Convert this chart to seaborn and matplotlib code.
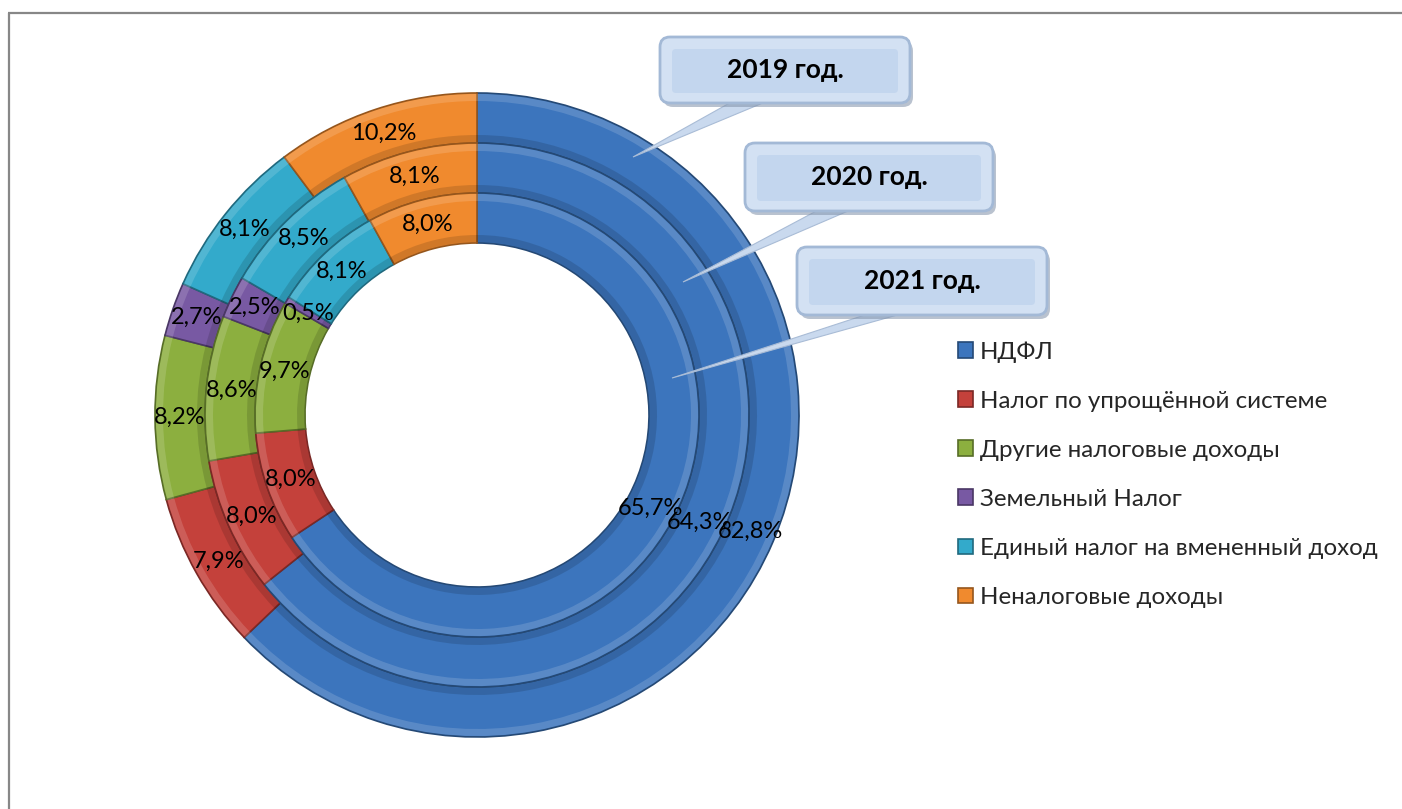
import numpy as np
import matplotlib.pyplot as plt
import seaborn as sns
from matplotlib.patches import FancyBboxPatch, Polygon
from matplotlib.colors import to_rgb

# --------------------------------------------------------------------------- #
#                               DATA                                          #
# --------------------------------------------------------------------------- #
CATEGORIES = [
    "НДФЛ",
    "Налог по упрощённой системе",
    "Другие налоговые доходы",
    "Земельный Налог",
    "Единый налог на вмененный доход",
    "Неналоговые доходы",
]
YEARS = ["2019 год.", "2020 год.", "2021 год."]
SHARE_2019 = [62.8, 7.9, 8.2, 2.7, 8.1, 10.2]
SHARE_2020 = [64.3, 8.0, 8.6, 2.5, 8.5, 8.1]
SHARE_2021 = [65.7, 8.0, 9.7, 0.5, 8.1, 8.0]

COLORS = ["#3C75BD", "#C4413B", "#8CAF3F", "#7859A3", "#33AACB", "#F08A2E"]

# --------------------------------------------------------------------------- #
#                               STYLE                                         #
# --------------------------------------------------------------------------- #
sns.set_theme(style="white")
plt.rcParams["font.family"] = ["Lato", "DejaVu Sans"]
palette = sns.color_palette(COLORS)
edge_cols = [tuple(c * 0.62 for c in to_rgb(col)) for col in palette]

W, H = 1402, 809
fig = plt.figure(figsize=(W / 100, H / 100), dpi=100)
ax = fig.add_axes([0, 0, 1, 1])

center = (477, H - 415)
radii = [322, 272, 222]
ring_w = 50
bevel = 7


def fmt(v):
    return f"{v:.1f}%".replace(".", ",")


for shares, r in zip([SHARE_2019, SHARE_2020, SHARE_2021], radii):
    wedges, _ = ax.pie(
        shares,
        colors=palette,
        radius=r,
        center=center,
        startangle=90,
        counterclock=False,
        wedgeprops=dict(width=ring_w, linewidth=1.2),
    )
    for w, ec in zip(wedges, edge_cols):
        w.set_edgecolor(ec)
    # лёгкий "скос": светлая полоса снаружи, тёмная внутри
    ax.pie(shares, colors=[(1, 1, 1, 0.15)] * len(shares), radius=r - 1,
           center=center, startangle=90, counterclock=False,
           wedgeprops=dict(width=bevel, linewidth=0))
    ax.pie(shares, colors=[(0, 0, 0, 0.13)] * len(shares), radius=r - ring_w + bevel + 1,
           center=center, startangle=90, counterclock=False,
           wedgeprops=dict(width=bevel, linewidth=0))
    # подписи по центру кольца
    mid_r = r - ring_w / 2
    for w, v in zip(wedges, shares):
        ang = np.deg2rad((w.theta1 + w.theta2) / 2)
        ax.text(center[0] + mid_r * np.cos(ang), center[1] + mid_r * np.sin(ang),
                fmt(v), ha="center", va="center", fontsize=17, color="black", zorder=5)

ax.set_xlim(0, W)
ax.set_ylim(0, H)
ax.set_aspect("equal")
ax.axis("off")

# --------------------------------------------------------------------------- #
#                          ВЫНОСКИ (callouts)                                 #
# --------------------------------------------------------------------------- #
boxes = [(660, 37, 250, 66), (745, 143, 248, 68), (797, 247, 250, 68)]
pointers = [
    [(633, 157), (735, 100), (770, 100)],
    [(683, 282), (822, 208), (855, 208)],
    [(672, 378), (874, 312), (908, 312)],
]
for label, (bx, by, bw, bh), pts in zip(YEARS, boxes, pointers):
    poly = Polygon([(x, H - y) for x, y in pts], closed=True,
                   facecolor="#C9D9EE", edgecolor="#A9BCD6", lw=0.8, zorder=6)
    ax.add_patch(poly)
    shadow = FancyBboxPatch((bx + 3, H - by - bh - 4), bw, bh,
                            boxstyle="round,pad=0,rounding_size=10",
                            facecolor="#8191A8", edgecolor="none", alpha=0.55, zorder=6)
    ax.add_patch(shadow)
    box = FancyBboxPatch((bx, H - by - bh), bw, bh,
                         boxstyle="round,pad=0,rounding_size=10",
                         facecolor="#D3E1F3", edgecolor="#A3B9D6", lw=2.0, zorder=7)
    ax.add_patch(box)
    inner = FancyBboxPatch((bx + 12, H - by - bh + 10), bw - 24, bh - 22,
                           boxstyle="round,pad=0,rounding_size=4",
                           facecolor="#C3D6EE", edgecolor="none", zorder=7)
    ax.add_patch(inner)
    ax.text(bx + bw / 2, H - by - bh / 2, label, ha="center", va="center",
            fontsize=19, fontweight="bold", color="black", zorder=8)

# --------------------------------------------------------------------------- #
#                               LEGEND                                        #
# --------------------------------------------------------------------------- #
handles = [plt.Rectangle((0, 0), 1, 1, facecolor=c, edgecolor=e, lw=1.2)
           for c, e in zip(palette, edge_cols)]
ax.legend(handles, CATEGORIES, loc="upper left", bbox_to_anchor=(946, H - 329),
          bbox_transform=ax.transData, frameon=False, fontsize=17.4,
          handlelength=0.6, handleheight=0.6, handletextpad=0.3,
          labelspacing=1.16, borderpad=0)

# рамка сверху и слева
ax.plot([8, W], [H - 13, H - 13], color="#878787", lw=1.6, solid_capstyle="butt", zorder=9)
ax.plot([9, 9], [0, H - 13], color="#878787", lw=1.6, solid_capstyle="butt", zorder=9)

fig.savefig("out.png", dpi=100)
